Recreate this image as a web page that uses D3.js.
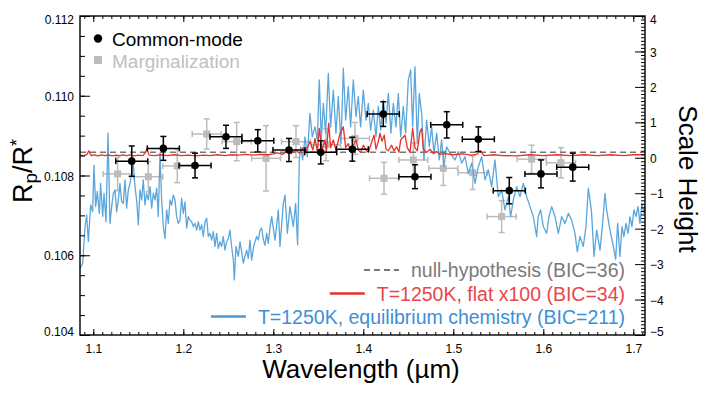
<!DOCTYPE html>
<html>
<head>
<meta charset="utf-8">
<script src="https://cdn.jsdelivr.net/npm/d3@7"></script>
<style>
  body { margin: 0; background: #fff; }
  svg { display: block; font-family: "Liberation Sans", Arial, Helvetica, sans-serif; }
</style>
</head>
<body>
<script>
// Common-mode points (black)
const cmWl = [1.1427, 1.1778, 1.2130, 1.2474, 1.2827, 1.3174, 1.3527, 1.3878, 1.4222, 1.4574, 1.4927, 1.5278, 1.5622, 1.5974, 1.6327]
const cmVal = [0.10836, 0.10868, 0.10825, 0.10897, 0.10887, 0.10864, 0.10858, 0.10866, 0.10954, 0.10797, 0.10927, 0.10891, 0.10762, 0.10804, 0.10821]
const cmErr = [0.00038, 0.00030, 0.00031, 0.00029, 0.00028, 0.00029, 0.00029, 0.00030, 0.00031, 0.00030, 0.00033, 0.00031, 0.00033, 0.00035, 0.00035]
const cmHalfBin = 0.0178

// Marginalization points (grey)
const mgWl = [1.1270, 1.1611, 1.1933, 1.2260, 1.2593, 1.2919, 1.3252, 1.3586, 1.3908, 1.4230, 1.4556, 1.4889, 1.5215, 1.5537, 1.5870, 1.6197]
const mgVal = [0.10804, 0.10797, 0.10824, 0.10904, 0.10885, 0.10843, 0.10885, 0.10877, 0.10893, 0.10793, 0.10839, 0.10818, 0.10807, 0.10697, 0.10841, 0.10832]
const mgErr = [0.00042, 0.00038, 0.00042, 0.00038, 0.00048, 0.00082, 0.00040, 0.00040, 0.00040, 0.00040, 0.00043, 0.00043, 0.00042, 0.00040, 0.00035, 0.00038]
const mgHalfBin = 0.0161

const nullLevel = 0.10858

// T=1250K equilibrium chemistry model [wavelength, Rp/R*]
const eqSpec = [
  [1.0852,0.10567],[1.0882,0.10580],[1.0908,0.10672],[1.0926,0.10701],[1.0945,0.10634],[1.0970,0.10726],
  [1.0993,0.10709],[1.1007,0.10826],[1.1026,0.10722],[1.1044,0.10760],[1.1067,0.10705],[1.1081,0.10780],
  [1.1104,0.10697],[1.1119,0.10755],[1.1141,0.10684],[1.1163,0.10906],[1.1185,0.10680],[1.1204,0.10722],
  [1.1222,0.10755],[1.1241,0.10764],[1.1259,0.10709],[1.1278,0.10739],[1.1296,0.10780],[1.1315,0.10734],
  [1.1333,0.10730],[1.1352,0.10789],[1.1370,0.10718],[1.1389,0.10764],[1.1407,0.10780],[1.1426,0.10805],
  [1.1444,0.10831],[1.1463,0.10772],[1.1481,0.10739],[1.1500,0.10676],[1.1518,0.10764],[1.1537,0.10739],
  [1.1555,0.10789],[1.1574,0.10726],[1.1592,0.10755],[1.1611,0.10739],[1.1630,0.10772],[1.1648,0.10718],
  [1.1667,0.10755],[1.1685,0.10739],[1.1704,0.10768],[1.1722,0.10697],[1.1741,0.10856],[1.1759,0.10739],
  [1.1778,0.10672],[1.1796,0.10642],[1.1815,0.10714],[1.1833,0.10680],[1.1852,0.10739],[1.1870,0.10726],
  [1.1889,0.10751],[1.1907,0.10739],[1.1926,0.10697],[1.1944,0.10680],[1.1963,0.10688],[1.1981,0.10743],
  [1.2000,0.10705],[1.2018,0.10734],[1.2037,0.10668],[1.2055,0.10697],[1.2074,0.10688],[1.2093,0.10684],
  [1.2111,0.10672],[1.2130,0.10680],[1.2148,0.10663],[1.2167,0.10684],[1.2185,0.10663],[1.2204,0.10676],
  [1.2222,0.10647],[1.2241,0.10684],[1.2259,0.10693],[1.2278,0.10647],[1.2296,0.10655],[1.2315,0.10638],
  [1.2333,0.10659],[1.2352,0.10622],[1.2370,0.10655],[1.2389,0.10617],[1.2407,0.10634],[1.2426,0.10622],
  [1.2444,0.10647],[1.2463,0.10613],[1.2481,0.10634],[1.2500,0.10642],[1.2518,0.10663],[1.2537,0.10622],
  [1.2556,0.10588],[1.2567,0.10538],[1.2585,0.10622],[1.2611,0.10597],[1.2630,0.10634],[1.2648,0.10609],
  [1.2667,0.10580],[1.2685,0.10597],[1.2704,0.10613],[1.2722,0.10592],[1.2741,0.10638],[1.2759,0.10588],
  [1.2778,0.10617],[1.2796,0.10634],[1.2815,0.10647],[1.2833,0.10638],[1.2852,0.10663],[1.2870,0.10668],
  [1.2889,0.10640],[1.2907,0.10625],[1.2926,0.10655],[1.2944,0.10630],[1.2963,0.10670],[1.2982,0.10697],
  [1.3019,0.10638],[1.3056,0.10714],[1.3074,0.10622],[1.3111,0.10730],[1.3130,0.10751],[1.3156,0.10655],
  [1.3185,0.10722],[1.3222,0.10672],[1.3248,0.10730],[1.3270,0.10626],[1.3289,0.10839],[1.3304,0.10872],
  [1.3326,0.10839],[1.3352,0.10897],[1.3378,0.10847],[1.3407,0.10956],[1.3433,0.10897],[1.3463,0.10922],
  [1.3489,0.10889],[1.3511,0.11040],[1.3533,0.10889],[1.3556,0.10981],[1.3581,0.10906],[1.3611,0.11056],
  [1.3637,0.10922],[1.3667,0.11014],[1.3696,0.10906],[1.3722,0.10998],[1.3752,0.10881],[1.3778,0.11069],
  [1.3804,0.10939],[1.3833,0.11023],[1.3859,0.10922],[1.3889,0.11040],[1.3919,0.10948],[1.3944,0.10998],
  [1.3970,0.10922],[1.4000,0.11014],[1.4030,0.10939],[1.4056,0.10981],[1.4081,0.10914],[1.4111,0.10964],
  [1.4141,0.10897],[1.4167,0.10973],[1.4193,0.10914],[1.4222,0.10989],[1.4252,0.10931],[1.4278,0.11006],
  [1.4307,0.10906],[1.4333,0.10981],[1.4363,0.10922],[1.4389,0.11006],[1.4415,0.10897],[1.4444,0.10973],
  [1.4470,0.10906],[1.4500,0.11040],[1.4526,0.11065],[1.4548,0.10922],[1.4574,0.11073],[1.4600,0.10881],
  [1.4622,0.11006],[1.4648,0.10956],[1.4674,0.10839],[1.4704,0.10939],[1.4733,0.10872],[1.4759,0.10922],
  [1.4785,0.10856],[1.4815,0.10906],[1.4844,0.10839],[1.4870,0.10889],[1.4896,0.10822],[1.4926,0.10872],
  [1.4963,0.10856],[1.5019,0.10839],[1.5056,0.10860],[1.5093,0.10831],[1.5130,0.10847],[1.5167,0.10805],
  [1.5204,0.10831],[1.5241,0.10780],[1.5278,0.10822],[1.5315,0.10847],[1.5352,0.10789],[1.5389,0.10814],
  [1.5426,0.10772],[1.5463,0.10839],[1.5500,0.10747],[1.5537,0.10764],[1.5574,0.10714],[1.5611,0.10747],
  [1.5637,0.10697],[1.5667,0.10739],[1.5704,0.10772],[1.5741,0.10747],[1.5778,0.10780],[1.5815,0.10747],
  [1.5852,0.10722],[1.5889,0.10697],[1.5926,0.10647],[1.5944,0.10697],[1.5970,0.10714],[1.6000,0.10672],
  [1.6037,0.10655],[1.6063,0.10697],[1.6093,0.10722],[1.6130,0.10697],[1.6167,0.10655],[1.6204,0.10697],
  [1.6241,0.10680],[1.6278,0.10705],[1.6315,0.10688],[1.6352,0.10655],[1.6378,0.10609],[1.6407,0.10647],
  [1.6444,0.10622],[1.6474,0.10672],[1.6500,0.10768],[1.6519,0.10739],[1.6537,0.10705],[1.6563,0.10597],
  [1.6593,0.10663],[1.6630,0.10613],[1.6659,0.10680],[1.6685,0.10755],[1.6704,0.10714],[1.6741,0.10663],
  [1.6778,0.10622],[1.6804,0.10590],[1.6826,0.10680],[1.6852,0.10597],[1.6874,0.10672],[1.6896,0.10647],
  [1.6919,0.10680],[1.6941,0.10655],[1.6963,0.10697],[1.6985,0.10672],[1.7007,0.10714],[1.7030,0.10697],
  [1.7052,0.10722],[1.7074,0.10680],[1.7096,0.10730],[1.7119,0.10705],[1.7130,0.10726]
]

// T=1250K flat x100 model
const flatSpec = [
  [1.0852,0.10851],[1.0900,0.10850],[1.0930,0.10853],[1.0950,0.10862],[1.0975,0.10850],[1.1010,0.10852],
  [1.1050,0.10849],[1.1090,0.10852],[1.1130,0.10850],[1.1170,0.10852],[1.1210,0.10849],[1.1250,0.10851],
  [1.1290,0.10850],[1.1330,0.10852],[1.1370,0.10850],[1.1410,0.10852],[1.1450,0.10849],[1.1500,0.10851],
  [1.1550,0.10850],[1.1580,0.10858],[1.1595,0.10868],[1.1620,0.10851],[1.1680,0.10850],[1.1750,0.10852],
  [1.1820,0.10850],[1.1900,0.10852],[1.1980,0.10850],[1.2060,0.10851],[1.2140,0.10849],[1.2220,0.10851],
  [1.2300,0.10850],[1.2380,0.10852],[1.2460,0.10850],[1.2540,0.10852],[1.2620,0.10851],[1.2700,0.10853],
  [1.2780,0.10851],[1.2860,0.10853],[1.2940,0.10852],[1.3000,0.10854],[1.3050,0.10857],[1.3100,0.10853],
  [1.3150,0.10860],[1.3200,0.10855],[1.3250,0.10864],[1.3290,0.10856],[1.3330,0.10870],[1.3360,0.10860],
  [1.3407,0.10885],[1.3440,0.10864],[1.3463,0.10893],[1.3490,0.10860],[1.3511,0.10918],[1.3540,0.10864],
  [1.3574,0.10889],[1.3590,0.10860],[1.3615,0.10931],[1.3637,0.10870],[1.3667,0.10889],[1.3696,0.10864],
  [1.3741,0.10905],[1.3778,0.10922],[1.3804,0.10870],[1.3833,0.10880],[1.3859,0.10862],[1.3889,0.10876],
  [1.3919,0.10889],[1.3944,0.10864],[1.3970,0.10858],[1.4000,0.10876],[1.4030,0.10864],[1.4056,0.10858],
  [1.4081,0.10876],[1.4119,0.10901],[1.4141,0.10866],[1.4167,0.10885],[1.4185,0.10906],[1.4207,0.10886],
  [1.4233,0.10901],[1.4252,0.10866],[1.4278,0.10862],[1.4315,0.10876],[1.4341,0.10862],[1.4370,0.10872],
  [1.4396,0.10858],[1.4415,0.10889],[1.4463,0.10901],[1.4489,0.10870],[1.4519,0.10858],[1.4548,0.10918],
  [1.4574,0.10870],[1.4600,0.10862],[1.4630,0.10910],[1.4648,0.10918],[1.4667,0.10866],[1.4704,0.10858],
  [1.4741,0.10866],[1.4778,0.10855],[1.4815,0.10860],[1.4852,0.10853],[1.4900,0.10855],[1.5000,0.10852],
  [1.5100,0.10854],[1.5200,0.10851],[1.5260,0.10853],[1.5300,0.10862],[1.5340,0.10850],[1.5450,0.10852],
  [1.5550,0.10850],[1.5700,0.10849],[1.5850,0.10852],[1.6000,0.10850],[1.6150,0.10852],[1.6300,0.10850],
  [1.6450,0.10852],[1.6600,0.10850],[1.6750,0.10852],[1.6900,0.10850],[1.7000,0.10852],[1.7130,0.10852]
]

const legendTop = ['Common-mode', 'Marginalization']
const legendModels = ['null-hypothesis (BIC=36)', 'T=1250K, flat x100 (BIC=34)', 'T=1250K, equilibrium chemistry (BIC=211)']

const width = 708, height = 397
const m = {left: 80, right: 645, top: 16, bottom: 335}
const grey = '#bcbcbc'
const blue = '#5ba6dc'
const red = '#e8312b'

const x = d3.scaleLinear().domain([1.0852, 1.713]).range([m.left, m.right])
const y = d3.scaleLinear().domain([0.104, 0.112]).range([m.bottom, m.top])
const y2 = d3.scaleLinear().domain([-5, 4]).range([m.bottom, m.top])

const svg = d3.select('body').append('svg')
    .attr('width', width)
    .attr('height', height)

svg.append('clipPath').attr('id', 'clip')
    .append('rect')
    .attr('x', m.left).attr('y', m.top)
    .attr('width', m.right - m.left).attr('height', m.bottom - m.top)

const plot = svg.append('g').attr('clip-path', 'url(#clip)')

function errorBars(g, wl, val, err, hw, color) {
    const pts = wl.map((w, i) => ({w, v: val[i], e: err[i]}))
    const cap = 3
    const sel = g.selectAll('g').data(pts).join('g')
        .attr('stroke', color)
        .attr('stroke-width', 1.5)
        .attr('fill', 'none')
    sel.append('line')
        .attr('x1', d => x(d.w)).attr('x2', d => x(d.w))
        .attr('y1', d => y(d.v - d.e)).attr('y2', d => y(d.v + d.e))
    sel.append('line')
        .attr('x1', d => x(d.w - hw)).attr('x2', d => x(d.w + hw))
        .attr('y1', d => y(d.v)).attr('y2', d => y(d.v))
    for (const s of [-1, 1]) {
        sel.append('line')
            .attr('x1', d => x(d.w) - cap).attr('x2', d => x(d.w) + cap)
            .attr('y1', d => y(d.v + s * d.e)).attr('y2', d => y(d.v + s * d.e))
        sel.append('line')
            .attr('x1', d => x(d.w + s * hw)).attr('x2', d => x(d.w + s * hw))
            .attr('y1', d => y(d.v) - cap).attr('y2', d => y(d.v) + cap)
    }
    return sel
}

// grey points underneath everything
const mg = errorBars(plot.append('g'), mgWl, mgVal, mgErr, mgHalfBin, grey)
mg.append('rect')
    .attr('x', d => x(d.w) - 3.5).attr('y', d => y(d.v) - 3.5)
    .attr('width', 7).attr('height', 7)
    .attr('fill', grey).attr('stroke', 'none')

const line = d3.line().x(d => x(d[0])).y(d => y(d[1]))

plot.append('path')
    .attr('d', line(eqSpec))
    .attr('fill', 'none')
    .attr('stroke', blue)
    .attr('stroke-width', 1.3)
    .attr('stroke-linejoin', 'round')

plot.append('line')
    .attr('x1', m.left).attr('x2', m.right)
    .attr('y1', y(nullLevel)).attr('y2', y(nullLevel))
    .attr('stroke', '#777')
    .attr('stroke-width', 1.5)
    .attr('stroke-dasharray', '6,4')

plot.append('path')
    .attr('d', line(flatSpec))
    .attr('fill', 'none')
    .attr('stroke', red)
    .attr('stroke-width', 1.3)
    .attr('stroke-linejoin', 'round')

const cm = errorBars(plot.append('g'), cmWl, cmVal, cmErr, cmHalfBin, '#000')
cm.append('circle')
    .attr('cx', d => x(d.w)).attr('cy', d => y(d.v))
    .attr('r', 3.8)
    .attr('fill', '#000').attr('stroke', 'none')

// axes
const styleAxis = (g) => {
    g.select('.domain').remove()
    g.selectAll('line').attr('stroke', '#000').attr('stroke-width', 1)
    g.selectAll('text').attr('font-size', 12).attr('fill', '#000')
        .attr('font-family', '"Liberation Sans", Arial, sans-serif')
}

svg.append('g')
    .attr('transform', `translate(${m.left},0)`)
    .call(d3.axisLeft(y).tickValues(d3.range(0.104, 0.11201, 0.0005)).tickSize(-5).tickFormat(''))
    .call(styleAxis)
svg.append('g')
    .attr('transform', `translate(${m.left},0)`)
    .call(d3.axisLeft(y).tickValues([0.104, 0.106, 0.108, 0.110, 0.112]).tickSize(-10).tickPadding(6).tickFormat(d3.format('.3f')))
    .call(styleAxis)
    .call(g => g.selectAll('.tick text').attr('dy', d => d > 0.1115 ? '0.62em' : d < 0.1045 ? '0.08em' : '0.38em'))

svg.append('g')
    .attr('transform', `translate(${m.right},0)`)
    .call(d3.axisRight(y2).tickValues(d3.range(-5, 4.001, 0.1)).tickSize(-4).tickFormat(''))
    .call(styleAxis)
svg.append('g')
    .attr('transform', `translate(${m.right},0)`)
    .call(d3.axisRight(y2).tickValues(d3.range(-5, 5, 1)).tickSize(-10).tickPadding(5))
    .call(styleAxis)
    .call(g => g.selectAll('.tick text').attr('dy', d => d === 4 ? '0.62em' : d === -5 ? '0.08em' : '0.38em'))

const xMinor = d3.range(1.09, 1.7131, 0.01)
for (const [pos, axis] of [[m.bottom, d3.axisBottom], [m.top, d3.axisTop]]) {
    svg.append('g')
        .attr('transform', `translate(0,${pos})`)
        .call(axis(x).tickValues(xMinor).tickSize(-3).tickFormat(''))
        .call(styleAxis)
}
svg.append('g')
    .attr('transform', `translate(0,${m.top})`)
    .call(d3.axisTop(x).tickValues(d3.range(1.1, 1.71, 0.1)).tickSize(-6).tickFormat(''))
    .call(styleAxis)
svg.append('g')
    .attr('transform', `translate(0,${m.bottom})`)
    .call(d3.axisBottom(x).tickValues(d3.range(1.1, 1.71, 0.1)).tickSize(-6).tickPadding(9).tickFormat(d3.format('.1f')))
    .call(styleAxis)

svg.append('rect')
    .attr('x', m.left).attr('y', m.top)
    .attr('width', m.right - m.left).attr('height', m.bottom - m.top)
    .attr('fill', 'none')
    .attr('stroke', '#000')
    .attr('stroke-width', 1.4)

// titles
svg.append('text')
    .attr('x', 361).attr('y', 378)
    .attr('text-anchor', 'middle')
    .attr('font-size', 26)
    .text('Wavelength (µm)')

const yTitle = svg.append('text')
    .attr('transform', 'translate(32,171) rotate(-90)')
    .attr('text-anchor', 'middle')
    .attr('font-size', 27)
yTitle.append('tspan').text('R')
yTitle.append('tspan').attr('font-size', 19).attr('dy', 5).text('p')
yTitle.append('tspan').attr('dy', -5).text('/R')
yTitle.append('tspan').attr('font-size', 18).attr('dy', -9).text('*')

svg.append('text')
    .attr('transform', 'translate(679,179) rotate(90)')
    .attr('text-anchor', 'middle')
    .attr('font-size', 26)
    .text('Scale Height')

// legend, top left
svg.append('circle').attr('cx', 98).attr('cy', 38.5).attr('r', 4.2).attr('fill', '#000')
svg.append('text').attr('x', 112).attr('y', 45.5).attr('font-size', 19).text(legendTop[0])
svg.append('rect').attr('x', 94).attr('y', 56).attr('width', 8).attr('height', 8).attr('fill', grey)
svg.append('text').attr('x', 112).attr('y', 67.5).attr('font-size', 19).attr('fill', '#c0c0c0').text(legendTop[1])

// legend, bottom right
const modelRows = [
    {label: legendModels[0], text: '#7a7a7a', stroke: '#777', dash: '6,4', cy: 270},
    {label: legendModels[1], text: '#e8474a', stroke: red, dash: null, cy: 293.5},
    {label: legendModels[2], text: '#3d8fd6', stroke: '#4a9ad8', dash: null, cy: 316.5},
]
for (const row of modelRows) {
    const t = svg.append('text')
        .attr('x', 625).attr('y', row.cy + 7)
        .attr('text-anchor', 'end')
        .attr('font-size', 19.5)
        .attr('fill', row.text)
        .text(row.label)
    const start = 625 - t.node().getComputedTextLength()
    svg.append('line')
        .attr('x1', start - 47).attr('x2', start - 12)
        .attr('y1', row.cy).attr('y2', row.cy)
        .attr('stroke', row.stroke)
        .attr('stroke-width', row.dash ? 2 : 2.5)
        .attr('stroke-dasharray', row.dash)
}
</script>
</body>
</html>
